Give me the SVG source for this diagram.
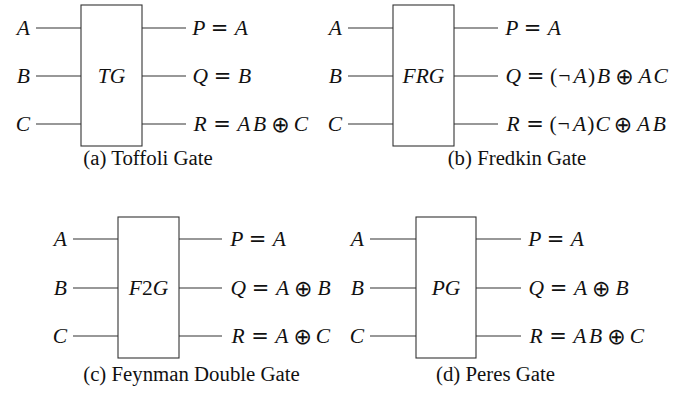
<svg xmlns="http://www.w3.org/2000/svg" width="686" height="399" viewBox="0 0 686 399">
<style>
.box{fill:#fff;stroke:#333;stroke-width:1.1}
.w{stroke:#333;stroke-width:1.1;fill:none}
text{font-family:"Liberation Serif","DejaVu Serif",serif;font-size:21.5px;fill:#111}
.m{font-style:italic}
.u{font-style:normal}
.e{font-style:normal;font-family:"DejaVu Sans",sans-serif;font-size:21px}
.o{font-style:normal;font-family:"DejaVu Sans",sans-serif;font-size:22px}
.l{text-anchor:end}
.c{text-anchor:middle}
.cap{font-size:20.8px;text-anchor:middle}
</style>
<rect width="686" height="399" fill="#fff"/>
<g id="connectors">
<path class="w" d="M36 28H81M36 76H81M36 124H81M142 28H186M142 76H186M142 124H186"/>
<path class="w" d="M348 28H393M348 76H393M348 124H393M454 28H498M454 76H498M454 124H498"/>
<path class="w" d="M73 239H118M73 288H118M73 336H118M179 239H222M179 288H222M179 336H222"/>
<path class="w" d="M370 239H416M370 288H416M370 336H416M476 239H521M476 288H521M476 336H521"/>
</g>
<g id="toffoli">
<rect class="box" x="81" y="5" width="61" height="141"/>
<text class="m c" x="111.5" y="83">TG</text>
<text class="m l" x="30" y="35">A</text>
<text class="m l" x="30" y="83">B</text>
<text class="m l" x="30" y="131">C</text>
<text class="m" y="35"><tspan x="192.2">P</tspan><tspan class="e" x="210.7">=</tspan><tspan x="234.8">A</tspan></text>
<text class="m" y="83"><tspan x="192.5">Q</tspan><tspan class="e" x="213.8">=</tspan><tspan x="238">B</tspan></text>
<text class="m" y="131"><tspan x="193.4">R</tspan><tspan class="e" x="213.2">=</tspan><tspan x="237.2">A</tspan><tspan x="253.1">B</tspan><tspan class="o" x="271.3" y="132">⊕</tspan><tspan x="293.7" y="131">C</tspan></text>
<text class="cap" x="148" y="165">(a) Toffoli Gate</text>
</g>
<g id="fredkin">
<rect class="box" x="393" y="5" width="61" height="141"/>
<text class="m c" x="423.5" y="83">FRG</text>
<text class="m l" x="342" y="35">A</text>
<text class="m l" x="342" y="83">B</text>
<text class="m l" x="342" y="131">C</text>
<text class="m" y="35"><tspan x="505.2">P</tspan><tspan class="e" x="523.7">=</tspan><tspan x="547.8">A</tspan></text>
<text class="m" y="83"><tspan x="505.5">Q</tspan><tspan class="e" x="526.8">=</tspan><tspan class="u" x="550.1">(</tspan><tspan class="u" x="558.3">¬</tspan><tspan x="573.6">A</tspan><tspan class="u" x="588">)</tspan><tspan x="597.1">B</tspan><tspan class="o" x="615.3" y="84">⊕</tspan><tspan x="638.6" y="83">A</tspan><tspan x="653.4">C</tspan></text>
<text class="m" y="131"><tspan x="506.4">R</tspan><tspan class="e" x="526.2">=</tspan><tspan class="u" x="549.4">(</tspan><tspan class="u" x="557.6">¬</tspan><tspan x="572.9">A</tspan><tspan class="u" x="587.3">)</tspan><tspan x="595.4">C</tspan><tspan class="o" x="613.7" y="132">⊕</tspan><tspan x="637" y="131">A</tspan><tspan x="652.8">B</tspan></text>
<text class="cap" x="517" y="165">(b) Fredkin Gate</text>
</g>
<g id="feynman">
<rect class="box" x="118" y="217" width="61" height="141"/>
<text class="m c" x="148.5" y="295">F<tspan class="u">2</tspan>G</text>
<text class="m l" x="67" y="246">A</text>
<text class="m l" x="67" y="295">B</text>
<text class="m l" x="67" y="343">C</text>
<text class="m" y="246"><tspan x="230.2">P</tspan><tspan class="e" x="248.7">=</tspan><tspan x="272.8">A</tspan></text>
<text class="m" y="295"><tspan x="230.5">Q</tspan><tspan class="e" x="251.8">=</tspan><tspan x="275.9">A</tspan><tspan class="o" x="294" y="296">⊕</tspan><tspan x="317.4" y="295">B</tspan></text>
<text class="m" y="343"><tspan x="231.4">R</tspan><tspan class="e" x="251.2">=</tspan><tspan x="275.2">A</tspan><tspan class="o" x="293.4" y="344">⊕</tspan><tspan x="315.7" y="343">C</tspan></text>
<text class="cap" x="191.5" y="381">(c) Feynman Double Gate</text>
</g>
<g id="peres">
<rect class="box" x="416" y="217" width="60" height="141"/>
<text class="m c" x="446" y="295">PG</text>
<text class="m l" x="364" y="246">A</text>
<text class="m l" x="364" y="295">B</text>
<text class="m l" x="364" y="343">C</text>
<text class="m" y="246"><tspan x="528.2">P</tspan><tspan class="e" x="546.7">=</tspan><tspan x="570.8">A</tspan></text>
<text class="m" y="295"><tspan x="528.5">Q</tspan><tspan class="e" x="549.8">=</tspan><tspan x="573.9">A</tspan><tspan class="o" x="592" y="296">⊕</tspan><tspan x="615.4" y="295">B</tspan></text>
<text class="m" y="343"><tspan x="529.4">R</tspan><tspan class="e" x="549.2">=</tspan><tspan x="573.2">A</tspan><tspan x="589.1">B</tspan><tspan class="o" x="607.3" y="344">⊕</tspan><tspan x="629.7" y="343">C</tspan></text>
<text class="cap" x="495.5" y="381">(d) Peres Gate</text>
</g>
</svg>
